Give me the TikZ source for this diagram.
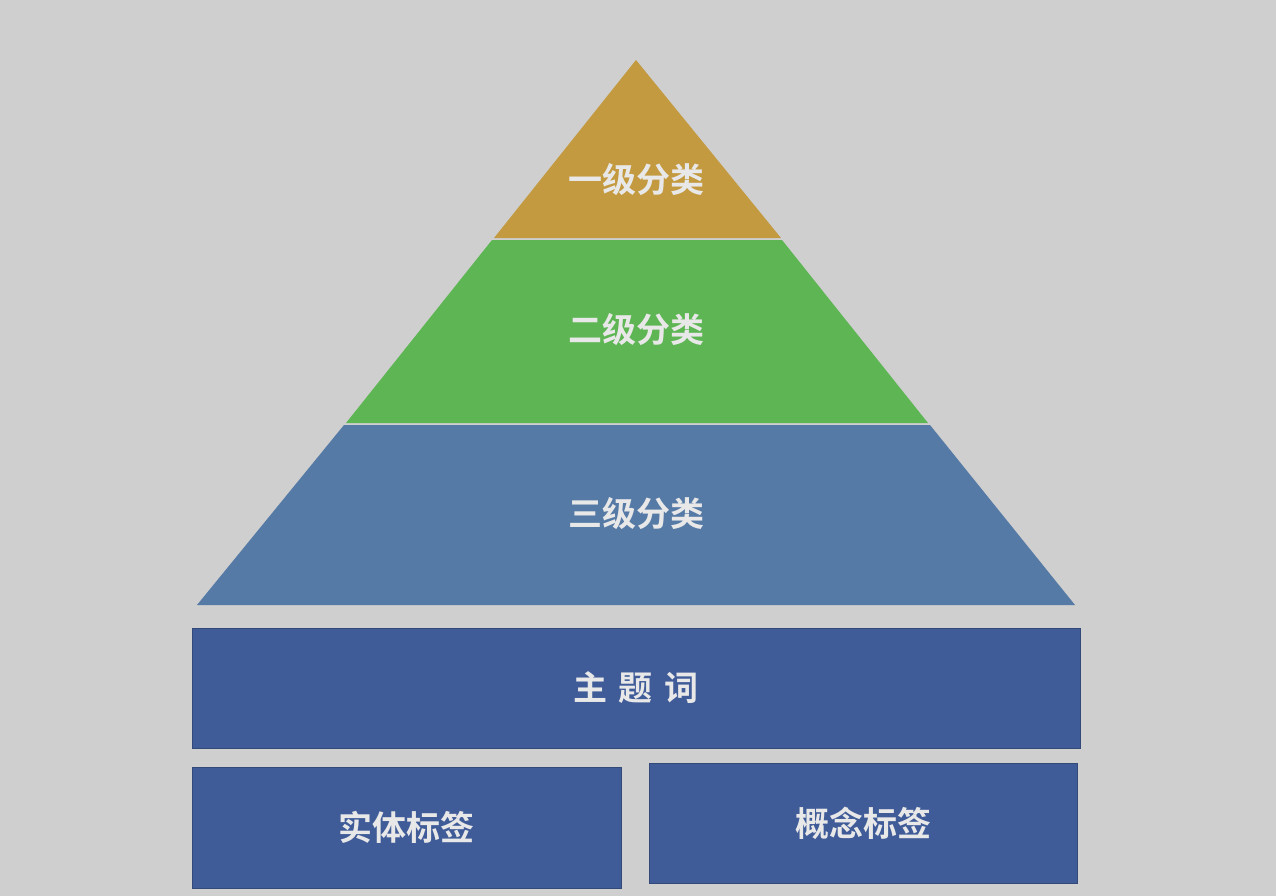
\documentclass[tikz,border=0pt]{standalone}
\usepackage{fontspec}
\newfontfamily\cjk{Noto Sans CJK SC Bold}
\definecolor{bg}{HTML}{CFCFCF}
\definecolor{gold}{HTML}{C49A40}
\definecolor{grn}{HTML}{5DB553}
\definecolor{lblue}{HTML}{557AA6}
\definecolor{dblue}{HTML}{3F5B98}
\definecolor{txt}{HTML}{E8E8E8}
\tikzset{lbl/.style={text=txt,font=\cjk\fontsize{34}{40}\selectfont},
 boxs/.style={fill=dblue,draw=dblue!80!black,line width=1pt}}
\begin{document}
\begin{tikzpicture}[x=1pt,y=-1pt]
\fill[bg] (0,0) rectangle (1276,896);
\useasboundingbox (0,0) rectangle (1276,896);
\fill[gold] (636,60) -- (781,238) -- (494,238) -- cycle;
\fill[grn] (492,240) -- (782,240) -- (928,423) -- (346,423) -- cycle;
\fill[lblue] (344,425) -- (930,425) -- (1075,605) -- (197,605) -- cycle;
\node[lbl] (l1) at (636,180) {一级分类};
\node[lbl] (l2) at (636,330) {二级分类};
\node[lbl] (l3) at (636,514) {三级分类};
\node[boxs,minimum width=888,minimum height=120] (z) at (636,688) {};
\node[lbl] at (z) {主\,\,题\,\,词};
\node[boxs,minimum width=429,minimum height=121] (s) at (406.5,827.5) {};
\node[lbl] at (s) {实体标签};
\node[boxs,minimum width=428,minimum height=120] (g) at (863,823) {};
\node[lbl] at (g) {概念标签};
\end{tikzpicture}
\end{document}
